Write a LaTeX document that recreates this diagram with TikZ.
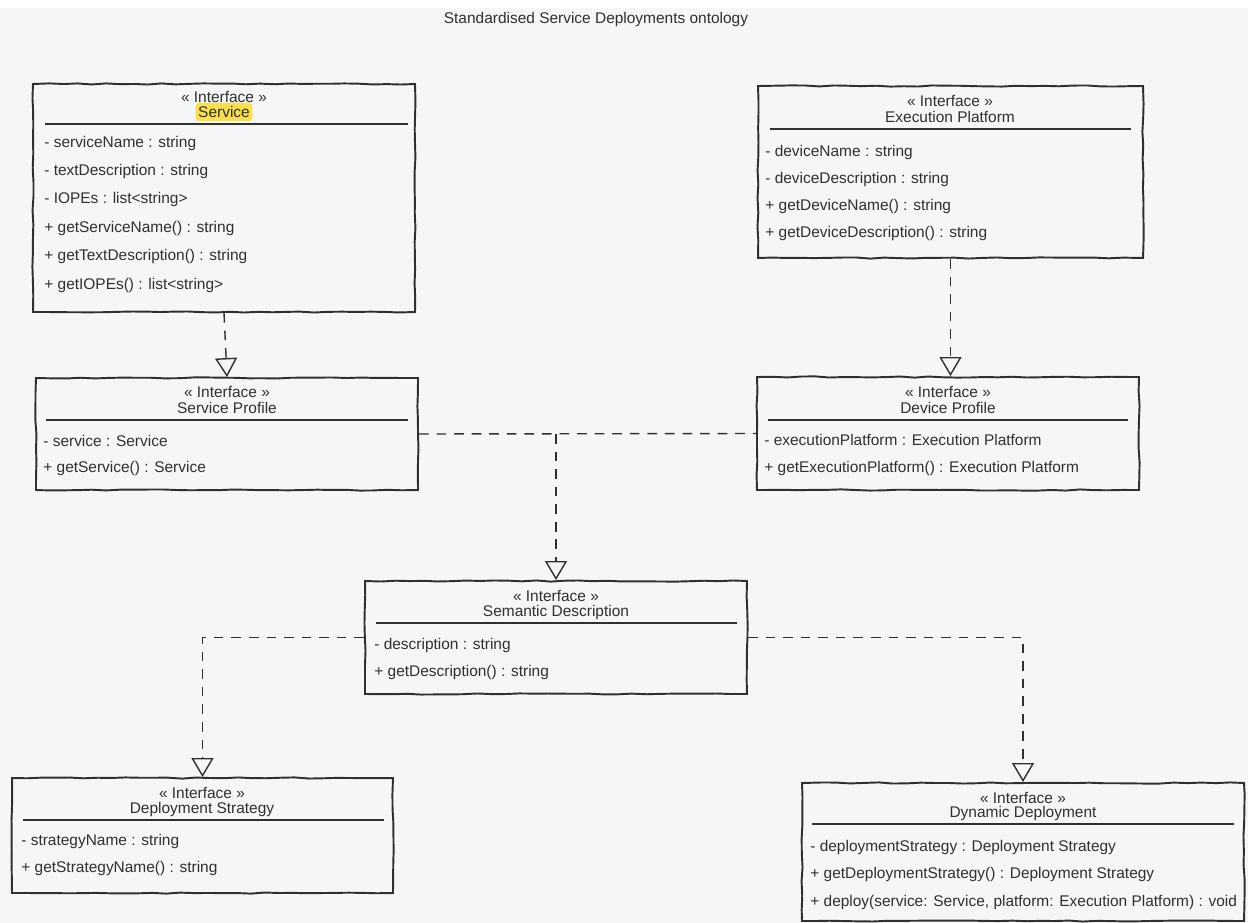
\documentclass[tikz,border=0pt]{standalone}
\usepackage{fontspec}
\setmainfont{Liberation Sans}
\usetikzlibrary{arrows.meta,decorations.pathmorphing}
\definecolor{ink}{HTML}{303030}
\definecolor{paper}{HTML}{F5F6F8}
\definecolor{marker}{HTML}{F9E04B}
\newcommand{\px}{0.02cm}

\begin{document}
\begin{tikzpicture}[x=\px,y=-\px,
  cls/.style={draw=ink,line width=1.1pt,inner sep=0pt,decorate,
    decoration={random steps,segment length=8pt,amplitude=0.35pt}},
  head/.style={inner sep=0pt,text=ink,font=\fontsize{8.8}{10}\selectfont},
  row/.style={head,anchor=west},
  sep/.style={draw=ink,line width=0.7pt},
  dashlink/.style={draw=ink,line width=0.8pt,dash pattern=on 5.5pt off 4.5pt},
  link/.style={dashlink,-{Triangle[open,length=0.38cm,width=0.44cm,line width=0.8pt]}}]
\pgfmathsetseed{11}
\fill[white] (0,0) rectangle (1248,8);
\fill[paper] (0,8) rectangle (1248,923);
\useasboundingbox (0,0) rectangle (1248,923);

\node[head] (title) at (596,20) {Standardised Service Deployments ontology};

% Service
\node[cls,minimum width=382*\px,minimum height=228*\px] (svc) at (224,198) {};
\node[head] (svc-st) at (224,97) {« Interface »};
\node[head,fill=marker,inner xsep=1.5pt,inner ysep=2pt,rounded corners=2pt] (svc-nm) at (224,112) {Service};
\draw[sep] (45,124) -- (408,124);
\foreach \t [count=\i] in {- serviceName : string,- textDescription : string,- IOPEs : list<string>,
  + getServiceName() : string,+ getTextDescription() : string,+ getIOPEs() : list<string>}
  \node[row] (svc-\i) at (44,{143+28.4*(\i-1)}) {\t};

% Execution Platform
\node[cls,minimum width=385*\px,minimum height=172*\px] (exe) at (950.5,172) {};
\node[head] (exe-st) at (950,101) {« Interface »};
\node[head] (exe-nm) at (950,117) {Execution Platform};
\draw[sep] (770,129) -- (1131,129);
\foreach \t [count=\i] in {- deviceName : string,- deviceDescription : string,
  + getDeviceName() : string,+ getDeviceDescription() : string}
  \node[row] (exe-\i) at (765,{152+27.3*(\i-1)}) {\t};

% Service Profile
\node[cls,minimum width=382*\px,minimum height=112*\px] (svp) at (227,434) {};
\node[head] (svp-st) at (227,392) {« Interface »};
\node[head] (svp-nm) at (227,408) {Service Profile};
\draw[sep] (46,420) -- (408,420);
\foreach \t [count=\i] in {- service : Service,+ getService() : Service}
  \node[row] (svp-\i) at (43,{441+27*(\i-1)}) {\t};

% Device Profile
\node[cls,minimum width=382*\px,minimum height=113*\px] (dvp) at (948,433.5) {};
\node[head] (dvp-st) at (948,392) {« Interface »};
\node[head] (dvp-nm) at (948,408) {Device Profile};
\draw[sep] (768,420) -- (1128,420);
\foreach \t [count=\i] in {- executionPlatform : Execution Platform,+ getExecutionPlatform() : Execution Platform}
  \node[row] (dvp-\i) at (764,{440+28*(\i-1)}) {\t};

% Semantic Description
\node[cls,minimum width=382*\px,minimum height=113*\px] (sem) at (556,637.5) {};
\node[head] (sem-st) at (556,596) {« Interface »};
\node[head] (sem-nm) at (556,612) {Semantic Description};
\draw[sep] (376,623) -- (737,623);
\foreach \t [count=\i] in {- description : string,+ getDescription() : string}
  \node[row] (sem-\i) at (374,{645+27*(\i-1)}) {\t};

% Deployment Strategy
\node[cls,minimum width=381*\px,minimum height=115*\px] (dst) at (202.5,835.5) {};
\node[head] (dst-st) at (202,793) {« Interface »};
\node[head] (dst-nm) at (202,809) {Deployment Strategy};
\draw[sep] (23,820) -- (384,820);
\foreach \t [count=\i] in {- strategyName : string,+ getStrategyName() : string}
  \node[row] (dst-\i) at (21,{841+27*(\i-1)}) {\t};

% Dynamic Deployment
\node[cls,minimum width=442*\px,minimum height=138*\px] (dyn) at (1023,852) {};
\node[head] (dyn-st) at (1023,798) {« Interface »};
\node[head] (dyn-nm) at (1023,813) {Dynamic Deployment};
\draw[sep] (812,824) -- (1234,824);
\foreach \t [count=\i] in {- deploymentStrategy : Deployment Strategy,+ getDeploymentStrategy() : Deployment Strategy,
  {+ deploy(service: Service, platform: Execution Platform) : void}}
  \node[row] (dyn-\i) at (810,{847+27.5*(\i-1)}) {\t};

% connectors
\draw[link] (svc.south) -- (svp.north);
\draw[link] (exe.south) -- (exe.south |- dvp.north);
\draw[dashlink] (svp.east) -- (dvp.west);
\coordinate (join) at (sem.north |- svp.east);
\draw[link] (join) -- (sem.north);
\draw[link] (sem.west) -| (dst.north);
\draw[link] (sem.east) -| (dyn.north);
\end{tikzpicture}
\end{document}
